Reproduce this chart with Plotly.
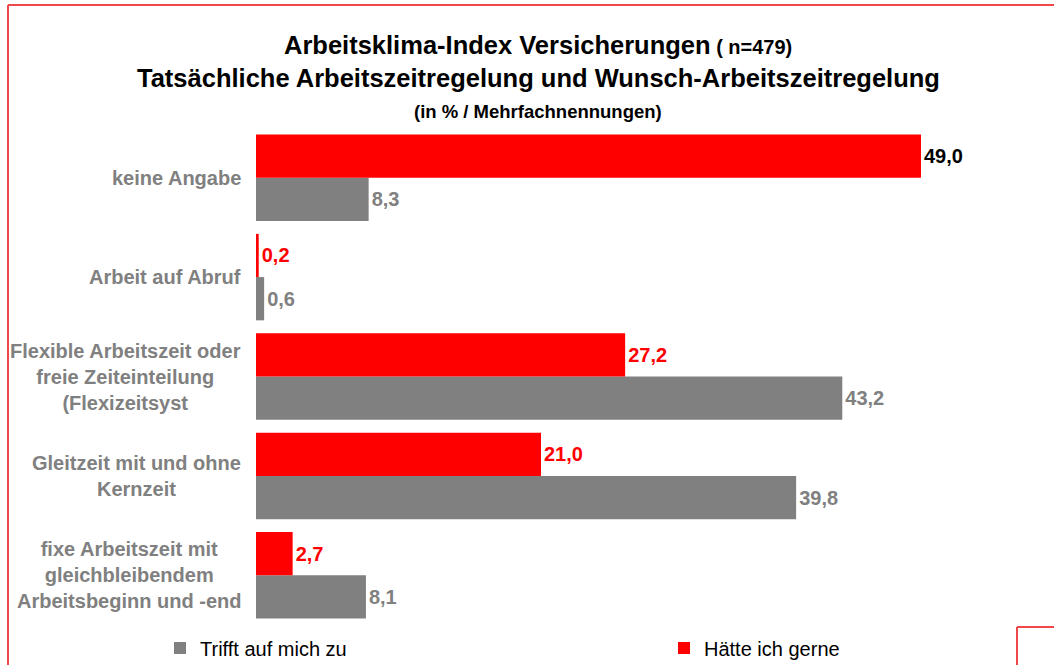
import plotly.graph_objects as go

categories = [
    "keine Angabe",
    "Arbeit auf Abruf",
    "Flexible Arbeitszeit oder<br>freie Zeiteinteilung<br>(Flexizeitsyst",
    "Gleitzeit mit und ohne<br>Kernzeit",
    "fixe Arbeitszeit mit<br>gleichbleibendem<br>Arbeitsbeginn und -end",
]
trifft_zu = [8.3, 0.6, 43.2, 39.8, 8.1]
haette_gerne = [49.0, 0.2, 27.2, 21.0, 2.7]
haette_label_colors = ["#000000", "#ff0000", "#ff0000", "#ff0000", "#ff0000"]

GRAY = "#808080"
RED = "#ff0000"
FONT = "Liberation Sans, Arial, sans-serif"

W, H = 1054, 665
L, R, T, B = 256, 54, 128, 40
pw, ph = W - L - R, H - T - B


def px_x(x):
    return (x - L) / pw


def px_y(y):
    return (H - B - y) / ph


fig = go.Figure()
fig.add_trace(go.Bar(
    name="Trifft auf mich zu", y=categories, x=trifft_zu, orientation="h",
    marker=dict(color=GRAY, line=dict(width=0)),
    texttemplate="<b>%{x:.1f}</b>", textposition="outside",
    textfont=dict(color=GRAY, size=20, family=FONT), cliponaxis=False,
    legend="legend",
))
fig.add_trace(go.Bar(
    name="Hätte ich gerne", y=categories, x=haette_gerne, orientation="h",
    marker=dict(color=RED, line=dict(width=0)),
    texttemplate="<b>%{x:.1f}</b>", textposition="outside",
    textfont=dict(color=haette_label_colors, size=20, family=FONT), cliponaxis=False,
    legend="legend2",
))

for c in categories:
    fig.add_annotation(
        xref="paper", yref="y", x=px_x(243), y=c, text="<b>" + c + "</b>",
        xanchor="right", yanchor="middle", align="center", showarrow=False,
        font=dict(color=GRAY, size=20, family=FONT),
    )

titles = [
    ("<b>Arbeitsklima-Index Versicherungen</b><span style='font-size:20px'><b> ( n=479)</b></span>", 25.5, 45),
    ("<b>Tatsächliche Arbeitszeitregelung und Wunsch-Arbeitszeitregelung</b>", 25.5, 78),
    ("<b>(in % / Mehrfachnennungen)</b>", 18.5, 111),
]
for txt, sz, yy in titles:
    fig.add_annotation(
        xref="paper", yref="paper", x=px_x(538), y=px_y(yy), text=txt,
        xanchor="center", yanchor="middle", showarrow=False,
        font=dict(color="#000000", size=sz, family=FONT),
    )

frame = dict(color="#f04848", width=2)
fig.add_shape(type="line", xref="paper", yref="paper", x0=px_x(8), y0=px_y(670), x1=px_x(8), y1=px_y(5), line=frame)
fig.add_shape(type="line", xref="paper", yref="paper", x0=px_x(8), y0=px_y(5), x1=px_x(1060), y1=px_y(5), line=frame)
fig.add_shape(type="line", xref="paper", yref="paper", x0=px_x(1017), y0=px_y(670), x1=px_x(1017), y1=px_y(627), line=frame)
fig.add_shape(type="line", xref="paper", yref="paper", x0=px_x(1017), y0=px_y(627), x1=px_x(1060), y1=px_y(627), line=frame)

leg_common = dict(
    orientation="h", xanchor="left", yanchor="middle",
    xref="container", yref="container",
    font=dict(size=20, color="#000000", family=FONT),
    bgcolor="rgba(0,0,0,0)", borderwidth=0,
)

fig.update_layout(
    width=W, height=H,
    margin=dict(l=L, r=R, t=T, b=B, autoexpand=False),
    paper_bgcolor="white", plot_bgcolor="white",
    barmode="group", bargap=0.13, bargroupgap=0,
    separators=", ",
    font=dict(family=FONT),
    showlegend=True,
    legend=dict(x=160 / W, y=(H - 648) / H, **leg_common),
    legend2=dict(x=664 / W, y=(H - 648) / H, **leg_common),
    xaxis=dict(range=[0, 49.0 * pw / 665], visible=False, fixedrange=True),
    yaxis=dict(categoryorder="array", categoryarray=categories[::-1],
               showticklabels=False, showgrid=False, zeroline=False, showline=False, ticks=""),
)

fig.write_html("out.html", config={"displayModeBar": False},
               post_script="document.body.style.margin='0';")
